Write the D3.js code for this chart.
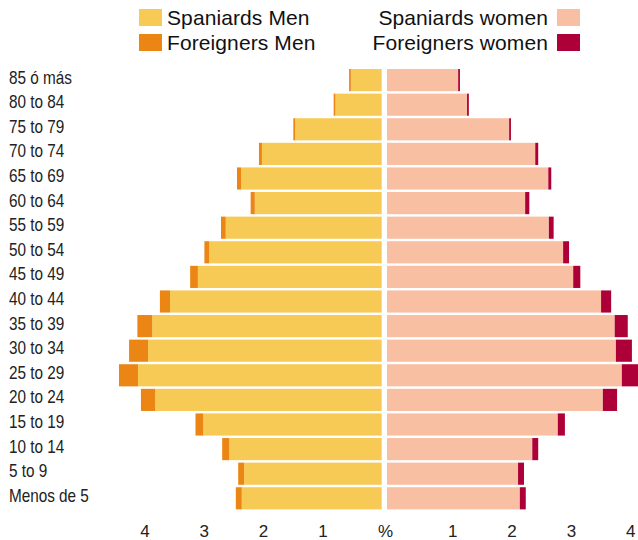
<!DOCTYPE html>
<html lang="en">
<head>
<meta charset="UTF-8">
<title>Population pyramid</title>
<script src="https://d3js.org/d3.v7.min.js"></script>
<style>
    body { margin: 0; background: #fff; }
    svg { display: block; }
    .age text { font-family: "Liberation Sans", Arial, sans-serif; font-size: 18px; fill: #222; }
    .tick-lbl text { font-family: "Liberation Sans", Arial, sans-serif; font-size: 17px; fill: #222; }
    .legend text { font-family: "Liberation Sans", Arial, sans-serif; font-size: 21px; fill: #111; letter-spacing: 0.1px; }
</style>
</head>
<body>
<svg width="638" height="540"></svg>
<script>
// age groups, top to bottom
let ageGroups = ["85 ó más", "80 to 84", "75 to 79", "70 to 74", "65 to 69", "60 to 64",
    "55 to 59", "50 to 54", "45 to 49", "40 to 44", "35 to 39", "30 to 34",
    "25 to 29", "20 to 24", "15 to 19", "10 to 14", "5 to 9", "Menos de 5"];

// % of population
let spaniardsMen   = [0.52, 0.78, 1.46, 2.02, 2.37, 2.14, 2.63, 2.91, 3.10, 3.57, 3.87, 3.94, 4.11, 3.82, 3.01, 2.57, 2.32, 2.36];
let foreignersMen  = [0.03, 0.03, 0.03, 0.05, 0.07, 0.07, 0.08, 0.08, 0.13, 0.17, 0.25, 0.32, 0.32, 0.24, 0.13, 0.12, 0.10, 0.10];
let spaniardsWomen = [1.20, 1.35, 2.06, 2.50, 2.72, 2.33, 2.73, 2.97, 3.14, 3.61, 3.84, 3.86, 3.96, 3.64, 2.88, 2.45, 2.21, 2.24];
let foreignersWomen= [0.03, 0.03, 0.03, 0.05, 0.05, 0.07, 0.08, 0.10, 0.12, 0.17, 0.22, 0.27, 0.28, 0.24, 0.12, 0.10, 0.10, 0.10];

let tickValues = [1, 2, 3, 4];

let colors = {
    spMen: "#F6CA54",
    frMen: "#EB8614",
    spWomen: "#F8BFA2",
    frWomen: "#AE0038"
};

let svg = d3.select("svg");

let unit = 59.3;
let xMen = d3.scaleLinear().domain([0, 4]).range([381.7, 381.7 - 4 * unit]);
let xWomen = d3.scaleLinear().domain([0, 4]).range([387, 387 + 4 * unit]);

let y = d3.scaleBand()
    .domain(ageGroups)
    .range([67.8, 510.6])
    .paddingInner(0.1)
    .paddingOuter(0.05);

let rows = ageGroups.map((a, i) => ({
    age: a,
    sm: spaniardsMen[i], fm: foreignersMen[i],
    sw: spaniardsWomen[i], fw: foreignersWomen[i]
}));

let bars = svg.append("g");

// men - spaniards
bars.selectAll("rect.sm").data(rows).enter().append("rect")
    .attr("x", d => xMen(d.sm))
    .attr("y", d => y(d.age))
    .attr("width", d => xMen(0) - xMen(d.sm))
    .attr("height", y.bandwidth())
    .attr("fill", colors.spMen);

// men - foreigners
bars.selectAll("rect.fm").data(rows).enter().append("rect")
    .attr("x", d => xMen(d.sm + d.fm))
    .attr("y", d => y(d.age))
    .attr("width", d => xMen(d.sm) - xMen(d.sm + d.fm))
    .attr("height", y.bandwidth())
    .attr("fill", colors.frMen);

// women - spaniards
bars.selectAll("rect.sw").data(rows).enter().append("rect")
    .attr("x", xWomen(0))
    .attr("y", d => y(d.age))
    .attr("width", d => xWomen(d.sw) - xWomen(0))
    .attr("height", y.bandwidth())
    .attr("fill", colors.spWomen);

// women - foreigners
bars.selectAll("rect.fw").data(rows).enter().append("rect")
    .attr("x", d => xWomen(d.sw))
    .attr("y", d => y(d.age))
    .attr("width", d => xWomen(d.sw + d.fw) - xWomen(d.sw))
    .attr("height", y.bandwidth())
    .attr("fill", colors.frWomen);

// age labels (condensed look)
svg.append("g").attr("class", "age")
    .selectAll("text").data(ageGroups).enter().append("text")
    .attr("transform", d => `translate(9,${y(d) + y.bandwidth() / 2 + 3.5}) scale(0.85,1)`)
    .text(d => d);

// bottom labels
let axisY = 537;
svg.append("g").attr("class", "tick-lbl")
    .attr("transform", `translate(0,${axisY})`)
    .call(d3.axisBottom(xMen).tickValues(tickValues).tickSize(0).tickPadding(0).tickFormat(d3.format("d")));
svg.append("g").attr("class", "tick-lbl")
    .attr("transform", `translate(6,${axisY})`)
    .call(d3.axisBottom(xWomen).tickValues(tickValues).tickSize(0).tickPadding(0).tickFormat(d3.format("d")));
svg.selectAll(".tick-lbl .domain").remove();
svg.selectAll(".tick-lbl text").attr("dy", 0).attr("y", 0)
    .style("font-family", "'Liberation Sans', Arial, sans-serif").style("font-size", "17px");

svg.append("g").attr("class", "tick-lbl")
    .append("text")
    .attr("x", 385.5)
    .attr("y", axisY)
    .attr("text-anchor", "middle")
    .text("%");

// legend
let legendLeft = [
    { label: "Spaniards Men", color: colors.spMen },
    { label: "Foreigners Men", color: colors.frMen }
];
let legendRight = [
    { label: "Spaniards women", color: colors.spWomen },
    { label: "Foreigners women", color: colors.frWomen }
];

let legend = svg.append("g").attr("class", "legend");

let lgL = legend.selectAll("g.l").data(legendLeft).enter().append("g")
    .attr("transform", (d, i) => `translate(139,${9 + i * 25})`);
lgL.append("rect").attr("width", 23).attr("height", 17).attr("fill", d => d.color);
lgL.append("text").attr("x", 28).attr("y", 16).text(d => d.label);

let lgR = legend.selectAll("g.r").data(legendRight).enter().append("g")
    .attr("transform", (d, i) => `translate(557,${9 + i * 25})`);
lgR.append("rect").attr("width", 23).attr("height", 17).attr("fill", d => d.color);
lgR.append("text").attr("x", -9).attr("y", 16).attr("text-anchor", "end").text(d => d.label);
</script>
</body>
</html>
